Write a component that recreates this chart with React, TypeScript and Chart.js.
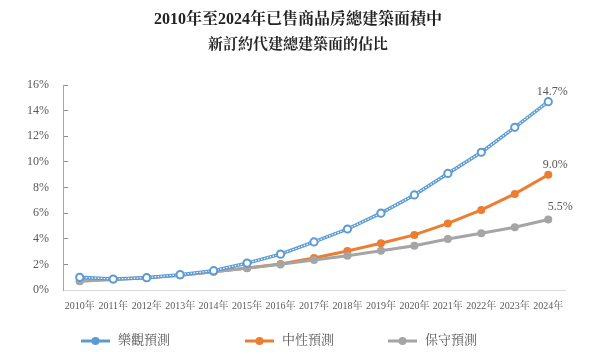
import { useEffect, useRef } from "react";
import { Chart, registerables } from "chart.js";

Chart.register(...registerables);

const years = ["2010年", "2011年", "2012年", "2013年", "2014年", "2015年", "2016年", "2017年", "2018年", "2019年", "2020年", "2021年", "2022年", "2023年", "2024年"];
const optimistic = [0.99, 0.86, 0.96, 1.2, 1.51, 2.1, 2.8, 3.75, 4.76, 6.0, 7.42, 9.1, 10.75, 12.7, 14.7];
const neutral = [0.7, 0.83, 0.97, 1.16, 1.43, 1.71, 2.03, 2.5, 3.05, 3.65, 4.3, 5.2, 6.25, 7.5, 9.0];
const conservative = [0.68, 0.82, 0.94, 1.15, 1.42, 1.7, 2.0, 2.34, 2.68, 3.07, 3.46, 3.98, 4.43, 4.9, 5.5];
const seriesNames = ["樂觀預測", "中性預測", "保守預測"];
const endLabels = ["14.7%", "9.0%", "5.5%"];
const titleLine1 = "2010年至2024年已售商品房總建築面積中";
const titleLine2 = "新訂約代建總建築面的佔比";

const BLUE = "#5B9BD5";
const ORANGE = "#ED7D31";
const GRAY = "#A5A5A5";
const TEXT = "#595959";
const FONT = '"Liberation Serif", "Noto Serif CJK TC", "Noto Sans CJK TC", serif';
const SERIES_COLORS = [BLUE, ORANGE, GRAY];

const titlePlugin = {
  id: "centeredTitle",
  afterDraw(chart: any) {
    const ctx = chart.ctx;
    const cx = chart.width / 2;
    ctx.save();
    ctx.textAlign = "center";
    ctx.textBaseline = "middle";
    ctx.fillStyle = "#222222";
    ctx.font = `bold 16px ${FONT}`;
    ctx.fillText(titleLine1, cx, 20);
    ctx.fillStyle = "#262626";
    ctx.font = `bold 15px ${FONT}`;
    ctx.fillText(titleLine2, cx, 45);
    ctx.restore();
  },
};

const endLabelPlugin = {
  id: "endLabels",
  afterDatasetsDraw(chart: any) {
    const ctx = chart.ctx;
    const mainIdx = [4, 0, 1]; // dataset indices for optimistic points, neutral, conservative
    const dx = [4, 7, 12];
    const dy = [-10, -10, -13];
    ctx.save();
    ctx.font = `12px ${FONT}`;
    ctx.fillStyle = TEXT;
    ctx.textAlign = "center";
    ctx.textBaseline = "middle";
    mainIdx.forEach((di, i) => {
      const meta = chart.getDatasetMeta(di);
      const pt = meta.data[meta.data.length - 1];
      if (!pt) return;
      ctx.fillText(endLabels[i], pt.x + dx[i], pt.y + dy[i]);
    });
    ctx.restore();
  },
};

const legendPlugin = {
  id: "customLegend",
  afterDraw(chart: any) {
    const ctx = chart.ctx;
    const xs = [81, 245, 388];
    const y = 341;
    ctx.save();
    ctx.font = `13px ${FONT}`;
    ctx.textBaseline = "middle";
    ctx.textAlign = "left";
    seriesNames.forEach((name, i) => {
      const x0 = xs[i];
      ctx.strokeStyle = SERIES_COLORS[i];
      ctx.lineWidth = 3;
      ctx.beginPath();
      ctx.moveTo(x0, y);
      ctx.lineTo(x0 + 29, y);
      ctx.stroke();
      ctx.fillStyle = SERIES_COLORS[i];
      ctx.beginPath();
      ctx.arc(x0 + 14.5, y, 4, 0, Math.PI * 2);
      ctx.fill();
      ctx.fillStyle = TEXT;
      ctx.fillText(name, x0 + 37, y);
    });
    ctx.restore();
  },
};

export default function App() {
  const ref = useRef<HTMLCanvasElement>(null);
  useEffect(() => {
    if (!ref.current) return;
    const chart = new Chart(ref.current, {
      type: "line",
      data: {
        labels: years,
        datasets: [
          {
            label: seriesNames[1],
            data: neutral,
            borderColor: ORANGE,
            backgroundColor: ORANGE,
            borderWidth: 3,
            pointRadius: 4,
            pointBorderWidth: 0,
            pointBackgroundColor: ORANGE,
            order: 5,
          },
          {
            label: seriesNames[2],
            data: conservative,
            borderColor: GRAY,
            backgroundColor: GRAY,
            borderWidth: 3,
            pointRadius: 4,
            pointBorderWidth: 0,
            pointBackgroundColor: GRAY,
            order: 4,
          },
          {
            label: seriesNames[0],
            data: optimistic,
            borderColor: BLUE,
            borderWidth: 3.5,
            pointRadius: 0,
            order: 3,
          },
          {
            label: "overlay",
            data: optimistic,
            borderColor: "#ffffff",
            borderWidth: 1.2,
            borderDash: [1.5, 1.5],
            pointRadius: 0,
            order: 2,
          },
          {
            label: "points",
            data: optimistic,
            showLine: false,
            pointRadius: 3.6,
            pointBorderWidth: 2,
            pointBorderColor: BLUE,
            pointBackgroundColor: "#ffffff",
            order: 1,
          },
        ],
      },
      options: {
        animation: false,
        responsive: false,
        layout: { padding: { left: 0, right: 31, top: 85, bottom: 39 } },
        plugins: {
          legend: { display: false },
          tooltip: { enabled: false },
          title: { display: false },
        },
        scales: {
          x: {
            offset: true,
            grid: { display: false, drawTicks: false },
            border: { display: true, color: "#D9D9D9", width: 1 },
            ticks: {
              color: TEXT,
              font: { family: FONT, size: 10 },
              padding: 10,
              maxRotation: 0,
              autoSkip: false,
            },
            afterFit(scale: any) {
              scale.height = 30;
            },
          },
          y: {
            min: 0,
            max: 16,
            grid: { display: true, drawOnChartArea: false, drawTicks: true, tickLength: -5, color: "#8C8C8C" },
            border: { display: true, color: "#A6A6A6", width: 1 },
            ticks: {
              stepSize: 2,
              color: TEXT,
              font: { family: FONT, size: 12 },
              padding: 19,
              callback: (v: any) => `${v}%`,
            },
            afterFit(scale: any) {
              scale.width = 63;
            },
          },
        },
      },
      plugins: [titlePlugin, endLabelPlugin, legendPlugin],
    });
    return () => chart.destroy();
  }, []);
  return (
    <div style={{ position: "absolute", left: 0, top: 0, width: 596, height: 359 }}>
      <canvas ref={ref} width={596} height={359} style={{ display: "block" }} />
    </div>
  );
}
